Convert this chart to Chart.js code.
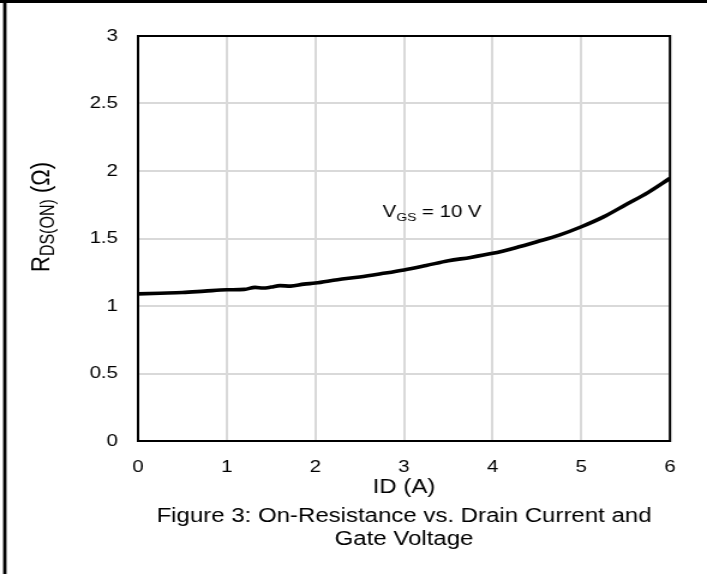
<!DOCTYPE html>
<html>
<head>
<meta charset="UTF-8">
<title>On-Resistance vs. Drain Current</title>
<script src="https://cdn.jsdelivr.net/npm/chart.js@4/dist/chart.umd.min.js"></script>
<style>
    html, body { margin: 0; padding: 0; background: #fff; overflow: hidden; }
    /* the original figure is stretched sideways, so the canvas is too */
    #wrap { width: 589px; height: 574px; transform: scaleX(1.2003); transform-origin: 0 0; }
</style>
</head>
<body>
<div id="wrap"><canvas id="chart" width="589" height="574"></canvas></div>
<script>
    // drain current (A) and on-resistance (ohm)
    var idA = [0, 0.25, 0.5, 0.75, 1, 1.2, 1.32, 1.41, 1.5, 1.6, 1.72, 1.87, 2, 2.25, 2.5, 2.75,
               3, 3.25, 3.5, 3.75, 4, 4.25, 4.5, 4.75, 5, 5.25, 5.5, 5.75, 6];
    var rds = [1.09, 1.095, 1.10, 1.11, 1.12, 1.123, 1.138, 1.133, 1.14, 1.151, 1.147, 1.162, 1.17, 1.195, 1.215, 1.24,
               1.267, 1.30, 1.335, 1.36, 1.39, 1.43, 1.476, 1.525, 1.587, 1.66, 1.75, 1.84, 1.946];
    var xTicks = [0, 1, 2, 3, 4, 5, 6];
    var yTicks = [0, 0.5, 1, 1.5, 2, 2.5, 3];
    var xTitle = 'ID (A)';
    var caption = ['Figure 3: On-Resistance vs. Drain Current and', 'Gate Voltage'];
    var note = { x: 2.76, y: 1.657 }; // where the V_GS label sits

    var FONT = "'Liberation Sans', Arial, sans-serif";

    var points = [];
    for (var i = 0; i < idA.length; i++) {
        points.push({ x: idA[i], y: rds[i] });
    }

    // draw a piece of text with a subscript part, returns the width
    function subText(ctx, parts, x, y, measureOnly) {
        var w = 0;
        for (var k = 0; k < parts.length; k++) {
            ctx.font = parts[k].size + 'px ' + FONT;
            if (!measureOnly) ctx.fillText(parts[k].t, x + w, y + (parts[k].dy || 0));
            w += ctx.measureText(parts[k].t).width;
        }
        return w;
    }

    var decor = {
        id: 'decor',
        beforeDraw: function (chart) {
            var ctx = chart.ctx;
            ctx.save();
            ctx.fillStyle = '#fff';
            ctx.fillRect(0, 0, chart.width, chart.height);
            ctx.restore();
        },
        afterDraw: function (chart) {
            var ctx = chart.ctx, a = chart.chartArea;
            ctx.save();
            // plot frame
            ctx.strokeStyle = '#000';
            ctx.lineWidth = 2;
            ctx.strokeRect(a.left, a.top, a.right - a.left, a.bottom - a.top);
            // outer figure frame (top and left edges)
            ctx.fillStyle = '#000';
            ctx.fillRect(0, 0, chart.width, 3);
            ctx.fillRect(2.6, 0, 2.8, chart.height);

            // y axis title R_DS(ON) (Ω)
            ctx.fillStyle = '#000';
            ctx.textBaseline = 'alphabetic';
            ctx.textAlign = 'left';
            var yParts = [
                { t: 'R', size: 22 },
                { t: 'DS(ON)', size: 16, dy: 4 },
                { t: ' (\u03A9)', size: 22 }
            ];
            ctx.save();
            ctx.translate(41, 217);
            ctx.rotate(-Math.PI / 2);
            var wy = subText(ctx, yParts, 0, 0, true);
            subText(ctx, yParts, -wy / 2, 0);
            ctx.restore();

            // V_GS = 10 V label
            var nx = chart.scales.x.getPixelForValue(note.x);
            var ny = chart.scales.y.getPixelForValue(note.y);
            subText(ctx, [
                { t: 'V', size: 17 },
                { t: 'GS', size: 11.5, dy: 4 },
                { t: ' = 10 V', size: 17 }
            ], nx, ny);
            ctx.restore();
        }
    };

    var ctx = document.getElementById('chart').getContext('2d');
    window.myChart = new Chart(ctx, {
        type: 'line',
        data: {
            datasets: [{
                data: points,
                borderColor: '#000',
                borderWidth: 3.6,
                pointRadius: 0,
                fill: false,
                cubicInterpolationMode: 'monotone'
            }]
        },
        options: {
            responsive: false,
            animation: false,
            layout: { padding: { top: 36, right: 30.8, left: 0, bottom: 0 } },
            plugins: {
                legend: { display: false },
                tooltip: { enabled: false },
                title: {
                    display: true,
                    position: 'bottom',
                    fullSize: false,
                    text: caption,
                    color: '#000',
                    font: { family: FONT, size: 20, weight: 'normal', lineHeight: 1.15 },
                    padding: { top: 0, bottom: 23.5 }
                }
            },
            scales: {
                x: {
                    type: 'linear',
                    min: xTicks[0],
                    max: xTicks[xTicks.length - 1],
                    afterBuildTicks: function (s) { s.ticks = xTicks.map(function (v) { return { value: v }; }); },
                    afterFit: function (s) { s.height = 63.5; },
                    grid: { color: '#d9d9d9', lineWidth: 2, drawTicks: false },
                    border: { display: false },
                    ticks: {
                        color: '#000', padding: 16.5, maxRotation: 0,
                        font: { family: FONT, size: 17 },
                        callback: function (v) { return String(v); }
                    },
                    title: {
                        display: true,
                        text: xTitle,
                        color: '#000',
                        font: { family: FONT, size: 20, lineHeight: 1.15 },
                        padding: { top: 0, bottom: 6 }
                    }
                },
                y: {
                    type: 'linear',
                    min: yTicks[0],
                    max: yTicks[yTicks.length - 1],
                    afterBuildTicks: function (s) { s.ticks = yTicks.map(function (v) { return { value: v }; }); },
                    afterFit: function (s) { s.width = 115; },
                    grid: { color: '#d9d9d9', lineWidth: 2, drawTicks: false },
                    border: { display: false },
                    ticks: {
                        color: '#000', padding: 16.7,
                        font: { family: FONT, size: 17 },
                        callback: function (v) { return String(v); }
                    }
                }
            }
        },
        plugins: [decor]
    });
</script>
</body>
</html>
